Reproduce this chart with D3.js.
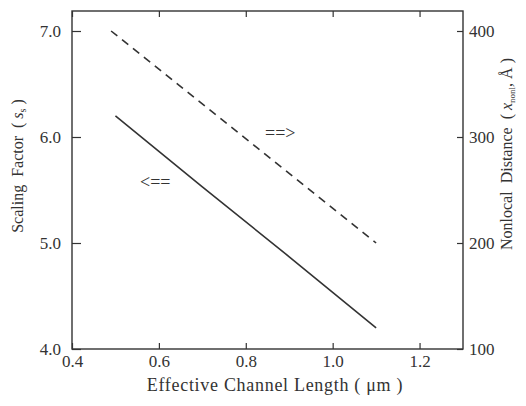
<!DOCTYPE html>
<html lang="en">
<head>
    <meta charset="UTF-8">
    <title>Scaling factor vs channel length</title>
    <script src="https://d3js.org/d3.v7.min.js"></script>
    <style>
        body { margin: 0; background: #fff; }
        text { font-family: "Liberation Serif", "DejaVu Serif", serif; fill: #333; white-space: pre; }
    </style>
</head>
<body>
    <svg width="526" height="406"></svg>
</body>
<script>
    // scaling factor (left axis), solid line
    let scaleLen = [0.5, 0.7, 0.9, 1.1]
    let scaleVals = [6.2, 5.53, 4.87, 4.2]
    // nonlocal distance (right axis), dashed line
    let distLen = [0.49, 1.1]
    let distVals = [400, 200]

    let xTicks = [0.4, 0.6, 0.8, 1.0, 1.2]
    let leftTicks = [4.0, 5.0, 6.0, 7.0]
    let rightTicks = [100, 200, 300, 400]

    let mLeft = 72, mRight = 463, mTop = 11, mBottom = 349

    let x = d3.scaleLinear().domain([0.4, 1.3]).range([mLeft, mRight])
    let yL = d3.scaleLinear().domain([4.0, 7.0]).range([mBottom, 31])
    let yR = d3.scaleLinear().domain([100, 400]).range([mBottom, 31])

    let svg = d3.select('svg')

    // frame
    svg.append('rect')
        .attr('x', mLeft).attr('y', mTop)
        .attr('width', mRight - mLeft).attr('height', mBottom - mTop)
        .attr('fill', 'none').attr('stroke', '#333').attr('stroke-width', 1.4)

    let styleAxis = (g) => {
        g.select('.domain').remove()
        g.selectAll('line').attr('stroke', '#333').attr('stroke-width', 1.2)
        g.selectAll('text').attr('font-size', 17).attr('fill', '#333')
            .style('font-family', '"Liberation Serif", serif')
    }

    svg.append('g').attr('transform', `translate(0,${mBottom})`)
        .call(d3.axisBottom(x).tickValues(xTicks).tickFormat(d3.format('.1f')).tickSize(-6).tickPadding(6))
        .call(styleAxis)
    svg.append('g').attr('transform', `translate(0,${mTop})`)
        .call(d3.axisTop(x).tickValues(xTicks).tickFormat('').tickSize(-6))
        .call(styleAxis)
    svg.append('g').attr('transform', `translate(${mLeft},0)`)
        .call(d3.axisLeft(yL).tickValues(leftTicks).tickFormat(d3.format('.1f')).tickSize(-9).tickPadding(11))
        .call(styleAxis)
    svg.append('g').attr('transform', `translate(${mRight},0)`)
        .call(d3.axisRight(yR).tickValues(rightTicks).tickSize(-6).tickPadding(6))
        .call(styleAxis)

    // lines
    let solid = d3.line().x((d, i) => x(scaleLen[i])).y(d => yL(d))
    svg.append('path').datum(scaleVals)
        .attr('d', solid)
        .attr('fill', 'none').attr('stroke', '#333').attr('stroke-width', 1.6)

    let dashed = d3.line().x((d, i) => x(distLen[i])).y(d => yR(d))
    svg.append('path').datum(distVals)
        .attr('d', dashed)
        .attr('fill', 'none').attr('stroke', '#333').attr('stroke-width', 1.6)
        .attr('stroke-dasharray', '8,6')

    // arrows telling which axis each line uses
    svg.append('text').attr('x', 265).attr('y', 139).attr('font-size', 18).text('==>')
    svg.append('text').attr('x', 140).attr('y', 188).attr('font-size', 18).text('<==')

    // axis titles
    svg.append('text')
        .attr('x', 275).attr('y', 391)
        .attr('text-anchor', 'middle').attr('font-size', 18)
        .attr('letter-spacing', 0.7)
        .text('Effective Channel Length ( \u03bcm )')

    let lt = svg.append('text')
        .attr('transform', 'translate(23,166) rotate(-90)')
        .attr('text-anchor', 'middle').attr('font-size', 16)
    lt.append('tspan').text('Scaling  Factor  ( ')
    lt.append('tspan').attr('font-style', 'italic').text('s')
    lt.append('tspan').attr('font-size', 10).attr('dy', 3).text('s')
    lt.append('tspan').attr('dy', -3).text(' )')

    let rt = svg.append('text')
        .attr('transform', 'translate(512,154) rotate(-90)')
        .attr('text-anchor', 'middle').attr('font-size', 16)
    rt.append('tspan').text('Nonlocal  Distance  ( ')
    rt.append('tspan').attr('font-style', 'italic').text('x')
    rt.append('tspan').attr('font-size', 9).attr('dy', 3).text('nonl')
    rt.append('tspan').attr('dy', -3).text(', \u00c5 )')
</script>
</html>
